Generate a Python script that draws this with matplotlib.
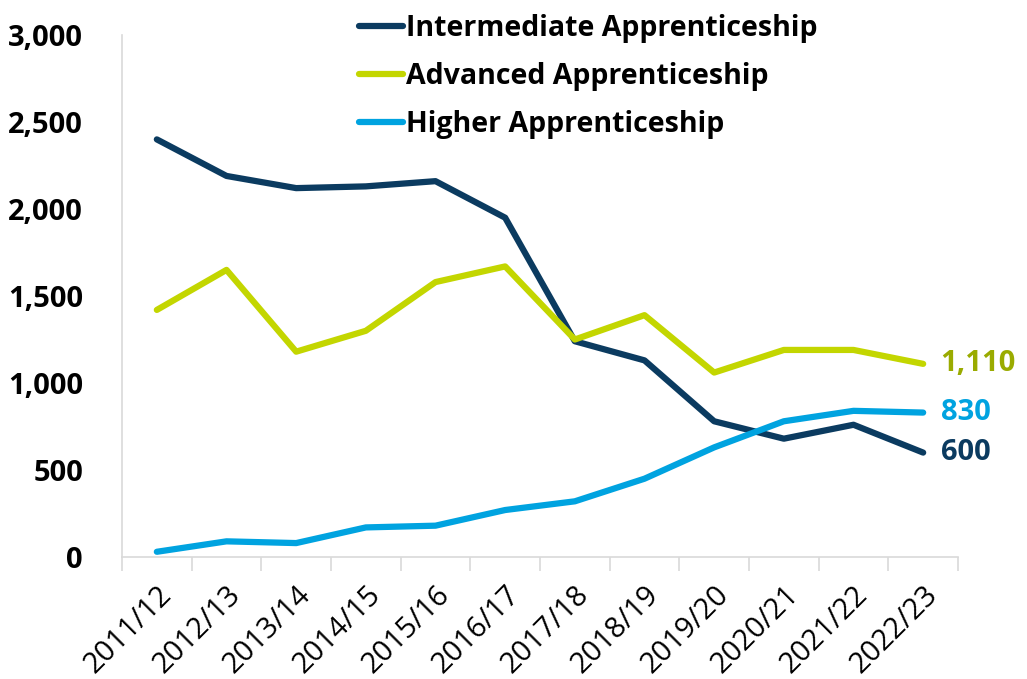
import matplotlib.pyplot as plt
import numpy as np

years = ['2011/12', '2012/13', '2013/14', '2014/15', '2015/16', '2016/17',
         '2017/18', '2018/19', '2019/20', '2020/21', '2021/22', '2022/23']
intermediate = [2400, 2190, 2120, 2130, 2160, 1950, 1240, 1130, 780, 680, 760, 600]
advanced = [1420, 1650, 1180, 1300, 1580, 1670, 1250, 1390, 1060, 1190, 1190, 1110]
higher = [30, 90, 80, 170, 180, 270, 320, 450, 630, 780, 840, 830]
end_labels = ['600', '1,110', '830']

navy = '#0B3B60'
lime = '#C3D600'
lime_text = '#9AAB00'
blue = '#00A3E0'

plt.rcParams['font.family'] = ['Open Sans', 'DejaVu Sans']

fig = plt.figure(figsize=(10.27, 6.79), dpi=100)
ax = fig.add_axes([122 / 1027, 1 - 557 / 679, 836 / 1027, 522 / 679])

x = np.arange(len(years))
ax.plot(x, intermediate, color=navy, lw=4.5, solid_capstyle='round', label='Intermediate Apprenticeship')
ax.plot(x, advanced, color=lime, lw=4.5, solid_capstyle='round', label='Advanced Apprenticeship')
ax.plot(x, higher, color=blue, lw=4.5, solid_capstyle='round', label='Higher Apprenticeship')

ax.text(x[-1] + 0.25, intermediate[-1], end_labels[0], color=navy, fontsize=21,
        fontweight='bold', va='center', ha='left')
ax.text(x[-1] + 0.25, advanced[-1], end_labels[1], color=lime_text, fontsize=21,
        fontweight='bold', va='center', ha='left')
ax.text(x[-1] + 0.25, higher[-1], end_labels[2], color=blue, fontsize=21,
        fontweight='bold', va='center', ha='left')

ax.set_xlim(-0.5, len(years) - 0.5)
ax.set_ylim(0, 3000)
ax.set_yticks(np.arange(0, 3001, 500))
ax.set_yticklabels([f'{v:,}' for v in range(0, 3001, 500)], fontsize=21, fontweight='bold')
ax.set_xticks(x)
ax.set_xticklabels(years, rotation=45, ha='right', rotation_mode='anchor', fontsize=21)
ax.set_xticks(np.arange(-0.5, len(years), 1), minor=True)
ax.tick_params(axis='x', which='major', length=0, pad=17)
ax.tick_params(axis='x', which='minor', length=10, color='#D9D9D9', width=1.2)
ax.tick_params(axis='y', length=0, pad=28)

for side in ['top', 'right']:
    ax.spines[side].set_visible(False)
for side in ['left', 'bottom']:
    ax.spines[side].set_color('#D9D9D9')
    ax.spines[side].set_linewidth(1.2)

leg = ax.legend(loc='upper left', bbox_to_anchor=(0.253, 1.09), frameon=False,
                prop={'size': 20.5, 'weight': 'bold'}, handlelength=1.55,
                handletextpad=0.1, labelspacing=0.68)

fig.savefig('out.png', dpi=100)
